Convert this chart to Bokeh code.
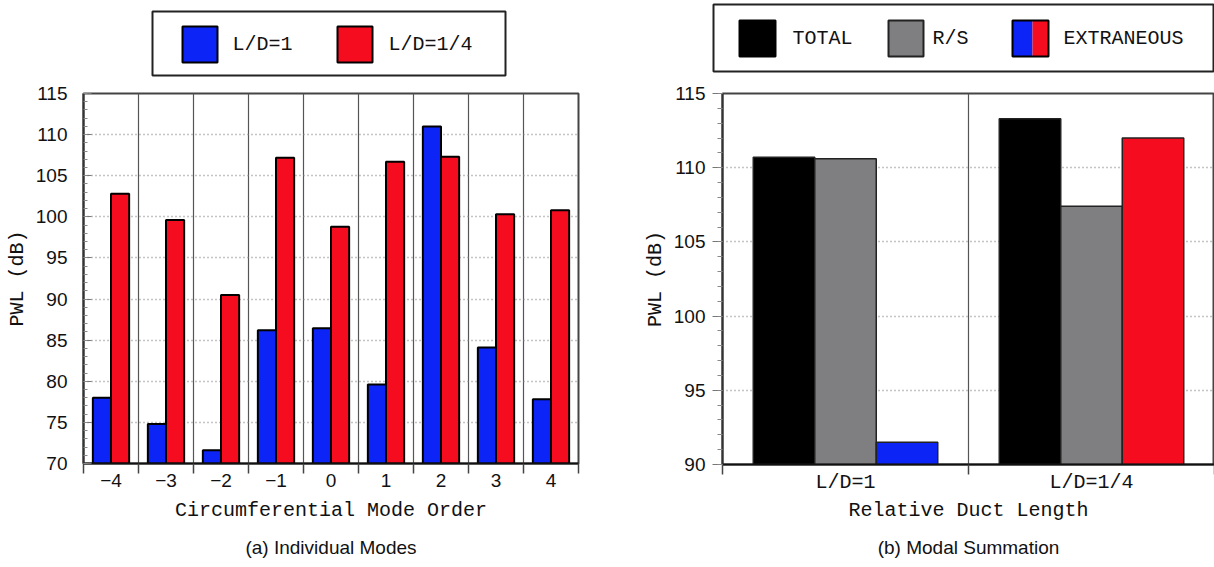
from bokeh.plotting import figure
from bokeh.models import ColumnDataSource, Range1d, FixedTicker, SingleIntervalTicker, Title
from bokeh.transform import dodge
from bokeh.layouts import row, column
from bokeh.core.properties import value
from bokeh.embed import file_html
from bokeh.resources import INLINE

# ---------------- data ----------------
# (a) Individual modes
modes = [-4, -3, -2, -1, 0, 1, 2, 3, 4]
pwl_ld1 = [78.0, 74.8, 71.6, 86.2, 86.45, 79.6, 111.0, 84.1, 77.8]
pwl_ld14 = [102.8, 99.6, 90.5, 107.2, 98.8, 106.7, 107.3, 100.3, 100.8]
series_a = ["L/D=1", "L/D=1/4"]

# (b) Modal summation
groups = ["L/D=1", "L/D=1/4"]
total = [110.7, 113.3]
rs = [110.6, 107.4]
extraneous = [91.5, 112.0]
series_b = ["TOTAL", "R/S", "EXTRANEOUS"]

# ---------------- styles ----------------
BLUE = "#0c24f5"
RED = "#f50c1f"
GRAY = "#7f7e80"
BLACK = "#000000"
MONO = "Liberation Mono"
SANS = "Liberation Sans"

LEG_H = 83
MAIN_H = 484


def legend_fig(width, height, box, swatches, labels, text_x, text_y):
    lf = figure(width=width, height=height, x_range=Range1d(0, width), y_range=Range1d(height, 0),
                x_axis_type=None, y_axis_type=None, output_backend="svg", toolbar_location=None,
                tools="", min_border_left=0, min_border_right=0, min_border_top=0, min_border_bottom=0)
    lf.frame_align = False
    lf.outline_line_color = None
    lf.grid.visible = False
    l, t, r, b = box
    lf.quad(left=[l], right=[r], top=[t], bottom=[b], fill_color="white", line_color="#222", line_width=2)
    for sw in swatches:
        lf.quad(left=[sw[0]], right=[sw[1]], top=[sw[2]], bottom=[sw[3]], fill_color=sw[4],
                line_color=sw[5], line_width=2)
    lf.text(x=text_x, y=[text_y] * len(labels), text=labels, text_font=value(MONO),
            text_font_size=value("20px"), text_baseline="middle", text_align="left", text_color="#111")
    return lf


def style_common(p):
    p.frame_align = False
    p.outline_line_color = "#444"
    p.outline_line_width = 2
    p.yaxis.axis_line_width = 2
    p.yaxis.axis_line_color = "#333"
    p.xaxis.axis_line_width = 2
    p.xaxis.axis_line_color = "#111"
    p.yaxis.major_label_text_font = SANS
    p.yaxis.major_label_text_font_size = "19px"
    p.yaxis.major_label_text_color = "#111"
    p.yaxis.axis_label_text_font = MONO
    p.yaxis.axis_label_text_font_size = "20px"
    p.yaxis.axis_label_text_font_style = "normal"
    p.yaxis.axis_label_text_color = "#111"
    p.xaxis.axis_label_text_font = MONO
    p.xaxis.axis_label_text_font_size = "20px"
    p.xaxis.axis_label_text_font_style = "normal"
    p.xaxis.axis_label_text_color = "#111"
    p.xaxis.major_label_text_color = "#111"
    p.xaxis.major_tick_out = 0
    p.xaxis.major_tick_in = 0
    p.xaxis.minor_tick_out = 10
    p.xaxis.minor_tick_in = 0
    p.xaxis.minor_tick_line_color = "#444"
    p.xaxis.minor_tick_line_width = 1.5
    p.xaxis.major_label_standoff = 0
    p.xaxis.axis_label_standoff = 9
    p.yaxis.major_tick_line_color = "#777"
    p.yaxis.minor_tick_line_color = "#888"
    p.ygrid.grid_line_color = "#888"
    p.ygrid.grid_line_dash = "1 3"
    p.ygrid.grid_line_width = 1.5
    p.xgrid.grid_line_color = "#555"
    p.xgrid.grid_line_width = 1.2


# ---------------- (a) ----------------
bounds_a = [m - 0.5 for m in modes] + [modes[-1] + 0.5]
p1 = figure(width=640, height=MAIN_H, x_range=Range1d(bounds_a[0], bounds_a[-1]), y_range=Range1d(70, 115),
            output_backend="svg", toolbar_location=None, tools="",
            min_border_left=83, min_border_right=62, min_border_top=10, min_border_bottom=103)
src_a = ColumnDataSource(dict(mode=modes, ld1=pwl_ld1, ld14=pwl_ld14))
base_a = p1.y_range.start
p1.vbar(x=dodge("mode", -0.165, range=p1.x_range), top="ld1", bottom=base_a, width=0.33, source=src_a,
        fill_color=BLUE, line_color=BLACK, line_width=2)
p1.vbar(x=dodge("mode", 0.165, range=p1.x_range), top="ld14", bottom=base_a, width=0.33, source=src_a,
        fill_color=RED, line_color=BLACK, line_width=2)
style_common(p1)
yt1 = SingleIntervalTicker(interval=5, num_minor_ticks=5)
p1.yaxis.ticker = yt1
p1.ygrid.ticker = yt1
p1.yaxis.major_tick_in = 8
p1.yaxis.major_tick_out = 0
p1.yaxis.minor_tick_in = 4
p1.yaxis.minor_tick_out = 0
p1.yaxis.major_label_standoff = 16
p1.yaxis.axis_label_standoff = 4
p1.yaxis.axis_label = "PWL (dB)"
p1.xaxis.ticker = FixedTicker(ticks=modes, minor_ticks=bounds_a)
p1.xgrid.ticker = FixedTicker(ticks=bounds_a[1:-1])
p1.xaxis.major_label_overrides = {m: str(m).replace("-", "\u2212") for m in modes}
p1.xaxis.major_label_text_font = SANS
p1.xaxis.major_label_text_font_size = "19px"
p1.xaxis.axis_label = "Circumferential Mode Order"
p1.add_layout(Title(text="(a) Individual Modes", align="center", text_font=SANS, text_font_size="19px",
                    text_font_style="normal", text_color="#111", standoff=20), "below")

leg1 = legend_fig(640, LEG_H, (152, 11, 505, 75),
                  [(182, 217, 26, 62, BLUE, BLACK), (337, 372, 26, 62, RED, BLACK)],
                  series_a, [232, 388], 44)

# ---------------- (b) ----------------
centers = [i + 0.5 for i in range(len(groups))]
bounds_b = [float(i) for i in range(len(groups) + 1)]
ext_colors = [BLUE, RED]
p2 = figure(width=574, height=MAIN_H, x_range=Range1d(bounds_b[0], bounds_b[-1]), y_range=Range1d(90, 115),
            output_backend="svg", toolbar_location=None, tools="",
            min_border_left=82, min_border_right=0, min_border_top=10, min_border_bottom=103)
src_b = ColumnDataSource(dict(x=centers, total=total, rs=rs, ext=extraneous, ext_color=ext_colors))
base_b = p2.y_range.start
p2.vbar(x=dodge("x", -0.25, range=p2.x_range), top="total", bottom=base_b, width=0.25, source=src_b,
        fill_color=BLACK, line_color="#222", line_width=1.5)
p2.vbar(x=dodge("x", 0.0, range=p2.x_range), top="rs", bottom=base_b, width=0.25, source=src_b,
        fill_color=GRAY, line_color="#222", line_width=1.5)
p2.vbar(x=dodge("x", 0.25, range=p2.x_range), top="ext", bottom=base_b, width=0.25, source=src_b,
        fill_color="ext_color", line_color="#222", line_width=1.5)
style_common(p2)
yt2 = SingleIntervalTicker(interval=5, num_minor_ticks=5)
p2.yaxis.ticker = yt2
p2.ygrid.ticker = yt2
p2.yaxis.major_tick_in = 0
p2.yaxis.major_tick_out = 10
p2.yaxis.minor_tick_in = 0
p2.yaxis.minor_tick_out = 5
p2.yaxis.major_label_standoff = 7
p2.yaxis.axis_label_standoff = 4
p2.yaxis.axis_label = "PWL (dB)"
p2.xaxis.ticker = FixedTicker(ticks=centers, minor_ticks=bounds_b)
p2.xgrid.ticker = FixedTicker(ticks=bounds_b[1:-1])
p2.xaxis.major_label_overrides = {c: g for c, g in zip(centers, groups)}
p2.xaxis.major_label_text_font = MONO
p2.xaxis.major_label_text_font_size = "20px"
p2.xaxis.major_label_standoff = -4
p2.xaxis.axis_label_standoff = 2
p2.xaxis.axis_label = "Relative Duct Length"
p2.add_layout(Title(text="(b) Modal Summation", align="center", text_font=SANS, text_font_size="19px",
                    text_font_style="normal", text_color="#111", standoff=20), "below")

leg2 = legend_fig(574, LEG_H, (73, 4, 573, 71),
                  [(99, 135, 20, 56, BLACK, BLACK), (248, 283, 20, 56, GRAY, "#222")],
                  series_b, [152, 292, 423], 38)
# split swatch for EXTRANEOUS
leg2.quad(left=[372], right=[392], top=[20], bottom=[56], fill_color=BLUE, line_color=None)
leg2.quad(left=[392], right=[408], top=[20], bottom=[56], fill_color=RED, line_color=None)
leg2.quad(left=[372], right=[408], top=[20], bottom=[56], fill_color=None, line_color=BLACK, line_width=2)

layout = row(column(leg1, p1), column(leg2, p2))
open("out.html", "w").write(file_html(layout, INLINE))
